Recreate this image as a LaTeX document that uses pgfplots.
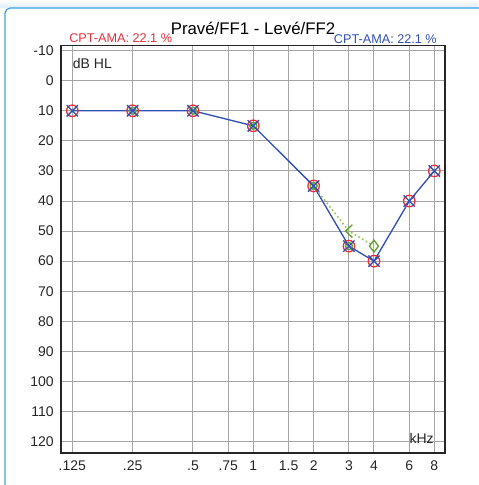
\documentclass[border=0pt]{standalone}
\usepackage{fontspec}
\setmainfont{Liberation Sans}
\usepackage{pgfplots}
\pgfplotsset{compat=1.18}

\definecolor{rightred}{RGB}{230,50,60}
\definecolor{leftblue}{RGB}{50,80,180}
\definecolor{ffgreen}{RGB}{100,160,50}
\definecolor{dotgreen}{RGB}{150,200,80}
\definecolor{framebl}{RGB}{60,160,225}
\definecolor{gridgray}{RGB}{165,165,165}

% "<" shaped mark for the masked free-field value
\pgfdeclareplotmark{lessthan}{%
  \pgfpathmoveto{\pgfqpoint{0.65\pgfplotmarksize}{1.2\pgfplotmarksize}}%
  \pgfpathlineto{\pgfqpoint{-0.65\pgfplotmarksize}{0pt}}%
  \pgfpathlineto{\pgfqpoint{0.65\pgfplotmarksize}{-1.2\pgfplotmarksize}}%
  \pgfusepathqstroke}

\begin{document}
\begin{tikzpicture}
\useasboundingbox (0,0) rectangle (358.5pt,363.75pt);

% outer panel frame
\shade[top color=white, bottom color=framebl!18] (0,357.75pt) rectangle (358.5pt,363.75pt);
\draw[framebl, line width=0.9pt, rounded corners=4pt] (3.75pt,-5pt) -- (3.75pt,357.75pt) -- (365pt,357.75pt);

\begin{axis}[
    at={(45.75pt,24pt)}, anchor=south west,
    scale only axis, width=288pt, height=305.6pt,
    xmin=-3.187, xmax=3.177,
    ymin=-11.7, ymax=123.8, y dir=reverse,
    xtick={-3,-2,-1,-0.415,0,0.585,1,1.585,2,2.585,3},
    xticklabels={.125,.25,.5,.75,1,1.5,2,3,4,6,8},
    ytick={-10,0,10,20,30,40,50,60,70,80,90,100,110,120},
    /pgf/number format/assume math mode=true,
    major tick length=0pt,
    grid=major,
    major grid style={gridgray, line width=0.75pt},
    axis line style={black!85, line width=1pt},
    tick label style={font=\fontsize{10.5}{12}\selectfont, black!85},
    yticklabel style={xshift=-2pt},
    xticklabel style={yshift=-2.5pt},
    clip=false,
]
% left ear connecting line
\addplot[leftblue, line width=1pt, mark=none] coordinates {
    (-3,10) (-2,10) (-1,10) (0,15) (1,35) (1.585,55) (2,60) (2.585,40) (3,30)
};
% free-field dotted line
\addplot[dotgreen, line width=1.2pt, dotted, mark=none] coordinates {
    (1,35) (1.585,50) (2,55)
};
% right ear: red circles
\addplot[only marks, mark=o, mark size=4.3pt, mark options={rightred, line width=1pt}] coordinates {
    (-3,10) (-2,10) (-1,10) (0,15) (1,35) (1.585,55) (2,60) (2.585,40) (3,30)
};
% free field: green circles
\addplot[only marks, mark=o, mark size=2.6pt, mark options={ffgreen, line width=1.1pt}] coordinates {
    (-2,10) (-1,10) (0,15) (1,35) (1.585,55)
};
\addplot[only marks, mark=lessthan, mark size=4pt, mark options={ffgreen, line width=1pt}] coordinates {
    (1.585,50)
};
\addplot[only marks, mark=diamond, mark size=4.5pt, mark options={ffgreen, line width=1pt}] coordinates {
    (2,55)
};
% left ear: blue crosses
\addplot[only marks, mark=x, mark size=6pt, mark options={leftblue, line width=1pt}] coordinates {
    (-3,10) (-2,10) (-1,10) (0,15) (1,35) (1.585,55) (2,60) (2.585,40) (3,30)
};
\end{axis}

% titles and labels
\node[anchor=base, inner sep=0pt, font=\fontsize{12.6}{14}\selectfont] at (189.75pt,337.5pt) {Pravé/FF1 - Levé/FF2};
\node[anchor=base west, inner sep=0pt, text=rightred, font=\fontsize{9.5}{11}\selectfont] at (51.75pt,331.7pt) {CPT-AMA: 22.1 \%};
\node[anchor=base east, inner sep=0pt, text=leftblue, font=\fontsize{9.5}{11}\selectfont] at (327.75pt,331.2pt) {CPT-AMA: 22.1 \%};
\node[anchor=base west, inner sep=0pt, font=\fontsize{10.5}{12}\selectfont, text=black!85] at (54.5pt,312.5pt) {dB HL};
\node[anchor=base east, inner sep=0pt, font=\fontsize{10.5}{12}\selectfont, text=black!85] at (325.5pt,31.3pt) {kHz};
\end{tikzpicture}
\end{document}
